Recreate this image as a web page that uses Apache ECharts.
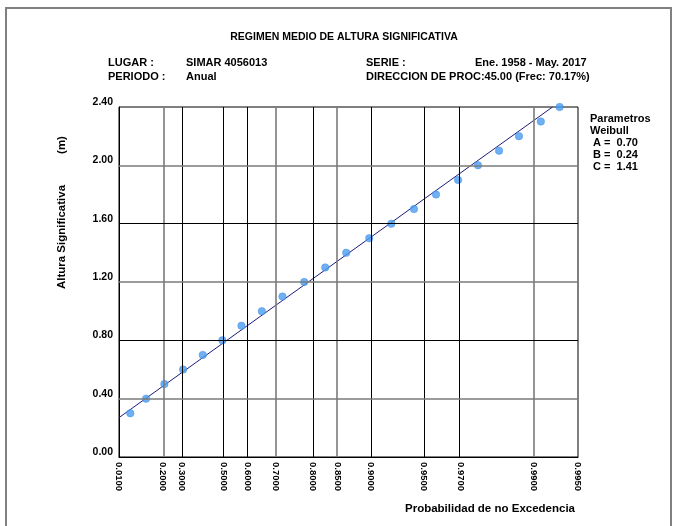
<!DOCTYPE html>
<html>
<head>
<meta charset="utf-8">
<script src="https://cdn.jsdelivr.net/npm/echarts@6/dist/echarts.min.js"></script>
<style>
html,body{margin:0;padding:0;background:#fff;}
#chart{width:677px;height:526px;}
</style>
</head>
<body>
<div id="chart"></div>
<script>
// Probability ticks of the x axis (non-exceedance probability)
const probTicks = [0.01, 0.2, 0.3, 0.5, 0.6, 0.7, 0.8, 0.85, 0.9, 0.95, 0.97, 0.99, 0.995];
// Empirical points: significant height (m) and non-exceedance probability
const heights = [0.3, 0.4, 0.5, 0.6, 0.7, 0.8, 0.9, 1.0, 1.1, 1.2, 1.3, 1.4, 1.5, 1.6, 1.7, 1.8, 1.9, 2.0, 2.1, 2.2, 2.3, 2.4];
const probs = [0.0478, 0.1172, 0.2086, 0.3052, 0.4041, 0.4959, 0.5768, 0.6533, 0.7200, 0.7790, 0.8262, 0.8646, 0.8981, 0.9232, 0.9431, 0.9579, 0.9691, 0.9768, 0.9830, 0.9874, 0.9910, 0.9933];
// Fitted Weibull line end points
const fitProbs = [0.01, 0.9925];
const fitHeights = [0.27, 2.40];
// Weibull parameters shown on the chart
const paramA = 0.70, paramB = 0.24, paramC = 1.41;
const yTicks = [0, 0.4, 0.8, 1.2, 1.6, 2.0, 2.4];

// Weibull probability paper transform
function xOf(p) { return Math.pow(-Math.log(1 - p), 1 / paramC); }

const grayTicks = [0.2, 0.7, 0.85, 0.99];
const font = 'Liberation Sans, Arial, sans-serif';

const chart = echarts.init(document.getElementById('chart'), null, {renderer: 'canvas'});

const txt = (x, y, t, size, extra) => Object.assign({
  type: 'text', x: x, y: y,
  style: Object.assign({text: t, font: 'bold ' + size + 'px ' + font, fill: '#000', textVerticalAlign: 'middle'}, extra || {})
});

const option = {
  animation: false,
  backgroundColor: '#fff',
  grid: {left: 119, top: 107, width: 459, height: 350, show: true, borderColor: '#000', borderWidth: 1, backgroundColor: 'transparent'},
  xAxis: {
    type: 'value',
    min: xOf(probTicks[0]),
    max: xOf(probTicks[probTicks.length - 1]),
    axisLine: {show: true, lineStyle: {color: '#000', width: 1}},
    axisTick: {show: false},
    splitLine: {show: false},
    axisLabel: {
      customValues: probTicks.map(xOf),
      rotate: -90,
      margin: 5,
      fontFamily: font, fontWeight: 'bold', fontSize: 9.5, color: '#000',
      formatter: function (v) {
        let best = probTicks[0], d = Infinity;
        probTicks.forEach(p => { const dd = Math.abs(xOf(p) - v); if (dd < d) { d = dd; best = p; } });
        return best.toFixed(4);
      }
    }
  },
  yAxis: {
    type: 'value', min: 0, max: 2.4, interval: 0.4,
    axisLine: {show: true, lineStyle: {color: '#000'}},
    axisTick: {show: false},
    splitLine: {show: false},
    axisLabel: {
      margin: 6, fontFamily: font, fontWeight: 'bold', fontSize: 10.5, color: '#000',
      verticalAlign: 'bottom', lineHeight: 10,
      formatter: v => v.toFixed(2)
    }
  },
  series: [
    {
      type: 'line',
      data: fitProbs.map((p, i) => [xOf(p), fitHeights[i]]),
      symbol: 'none',
      lineStyle: {color: '#1c1c78', width: 1},
      z: 3,
      markLine: {
        silent: true, symbol: 'none', label: {show: false}, animation: false,
        data: probTicks.slice(1, -1).map(p => ({
          xAxis: xOf(p),
          lineStyle: grayTicks.indexOf(p) >= 0 ? {color: '#7a7a7a', width: 1.6, type: 'solid'} : {color: '#000', width: 1, type: 'solid'}
        })).concat(yTicks.slice(1, -1).map((v, i) => ({
          yAxis: v,
          lineStyle: i % 2 === 0 ? {color: '#7a7a7a', width: 1.6, type: 'solid'} : {color: '#000', width: 1, type: 'solid'}
        })))
      }
    },
    {
      type: 'scatter',
      data: probs.map((p, i) => [xOf(p), heights[i]]),
      symbol: 'circle', symbolSize: 7.5,
      itemStyle: {color: '#4a9cf0', borderColor: '#3a8ae0', borderWidth: 0.5},
      z: 4
    }
  ],
  graphic: [
    {type: 'polyline', shape: {points: [[6, 526], [6, 8], [671, 8], [671, 526]]}, style: {stroke: '#808080', lineWidth: 2, fill: null}},
    txt(344, 37, 'REGIMEN MEDIO DE ALTURA SIGNIFICATIVA', 10.5, {textAlign: 'center'}),
    txt(108, 63, 'LUGAR :', 11),
    txt(186, 63, 'SIMAR 4056013', 11),
    txt(108, 77, 'PERIODO :', 11),
    txt(186, 77, 'Anual', 11),
    txt(366, 63, 'SERIE :', 11),
    txt(475, 63, 'Ene. 1958 - May. 2017', 11),
    txt(366, 77, 'DIRECCION DE PROC:45.00 (Frec: 70.17%)', 11),
    txt(590, 119, 'Parametros', 11),
    txt(590, 131, 'Weibull', 11),
    txt(593, 143, 'A =  ' + paramA.toFixed(2), 11),
    txt(593, 155, 'B =  ' + paramB.toFixed(2), 11),
    txt(593, 167, 'C =  ' + paramC.toFixed(2), 11),
    txt(490, 509, 'Probabilidad de no Excedencia', 11.5, {textAlign: 'center'}),
    {type: 'text', x: 62, y: 237, rotation: Math.PI / 2, style: {text: 'Altura Significativa', font: 'bold 11.5px ' + font, fill: '#000', textAlign: 'center', textVerticalAlign: 'middle'}},
    {type: 'text', x: 62, y: 145, rotation: Math.PI / 2, style: {text: '(m)', font: 'bold 11.5px ' + font, fill: '#000', textAlign: 'center', textVerticalAlign: 'middle'}}
  ]
};
chart.setOption(option);
</script>
</body>
</html>
